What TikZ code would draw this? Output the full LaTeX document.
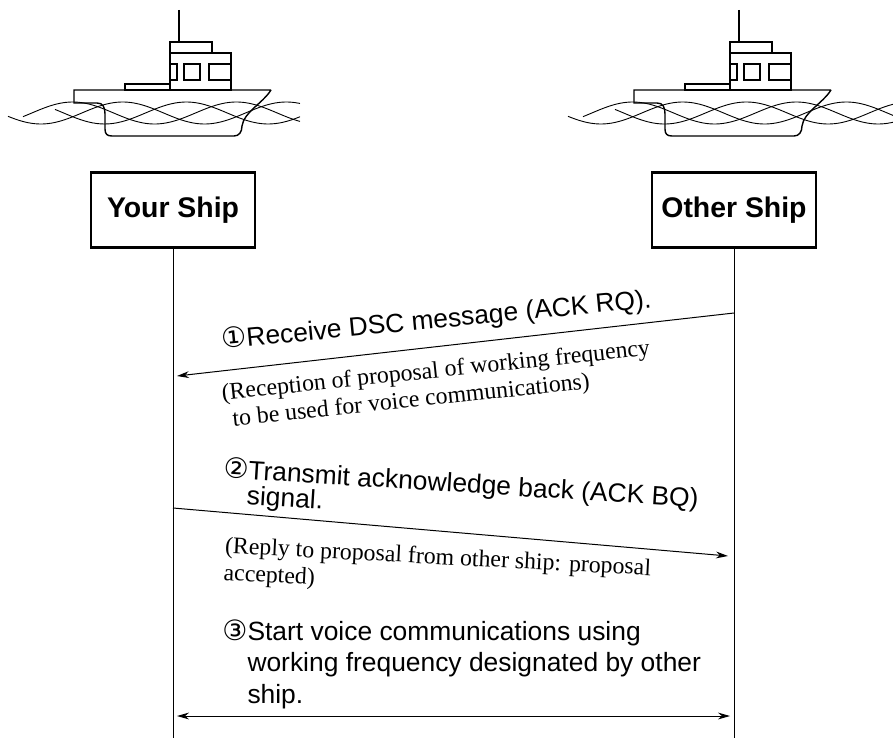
\documentclass[tikz,border=0pt]{standalone}
\usepackage{fontspec}
\setmainfont{Liberation Serif}
\setsansfont{Liberation Sans}
\newfontfamily\circfont{DejaVu Sans}
\usetikzlibrary{arrows.meta}

% circled step number
\newcommand{\cnum}[1]{{\circfont\fontsize{14}{14}\selectfont #1}}

\begin{document}
\begin{tikzpicture}[x=0.5pt, y=-0.5pt, >={Stealth[length=6pt, width=3.4pt]}]
    \useasboundingbox (0,0) rectangle (893,738);

    %styles
    \tikzstyle{shipbox}=[draw, line width=1.2pt, minimum width=82pt, minimum height=37.5pt, font=\sffamily\bfseries\fontsize{14.2}{17}\selectfont]
    \tikzstyle{lifeline}=[line width=0.5pt]
    \tikzstyle{msg}=[line width=0.5pt]
    \tikzstyle{steptext}=[inner sep=0pt, anchor=base west, align=left, font=\sffamily\fontsize{13.2}{15.75}\selectfont]
    \tikzstyle{note}=[inner sep=0pt, anchor=base west, align=left, font=\rmfamily\fontsize{11.9}{13.5}\selectfont]
    \tikzset{ship/.pic={
        % mast, bridge and cabin
        \draw[line width=0.7pt] (179,10) -- (179,42);
        \draw[line width=0.7pt] (170,42) rectangle (212,53);
        \draw[line width=0.7pt] (170,53) rectangle (231,90);
        \draw[line width=0.7pt] (170,64) rectangle (177,80) (184,64) rectangle (200,80) (209,64) rectangle (231,80);
        \draw[line width=0.7pt] (125,84) rectangle (170,90);
        % hull
        \draw[line width=0.7pt] (271,90) -- (74,90) -- (74,103) -- (97,103)
            .. controls (103,103) and (105,107) .. (105,114) -- (105,129)
            .. controls (105,134) and (107,136) .. (112,136) -- (234,136)
            .. controls (239,136) and (242,132) .. (242,126)
            .. controls (244,112) and (262,104) .. (271,90);
        % waves
        \foreach \ph/\xa in {0/8, 110/23, 220/55}
            \draw[line width=0.45pt] plot[domain=\xa:#1, samples=60, smooth] (\x, {113 + 11*sin(2.2*\x + \ph)});
    }}

    % ships
    \pic at (0,0) {ship=300};
    \pic at (560,0) {ship=333};

    % nodes
    \node[shipbox] (ys) at (173,210) {Your Ship};
    \node[shipbox] (os) at (734,210) {Other Ship};
    \coordinate (ys-end) at (173,738);
    \coordinate (os-end) at (734,738);

    \coordinate (m1-from) at (734,313);
    \coordinate (m1-to) at (177,376);
    \coordinate (m2-from) at (173,508);
    \coordinate (m2-to) at (728,556);
    \coordinate (m3-left) at (177,716);
    \coordinate (m3-right) at (730,716);

    % (multi-line nodes sit on the baseline of their last line)
    \node[steptext, rotate=5.5] (t1) at (222,349) {\cnum{①}Receive DSC message (ACK RQ).};
    \node[note, rotate=6] (n1) at (225,427) {(Reception of proposal of working frequency\\ \hspace*{4pt}to be used for voice communications)};
    \node[steptext, rotate=-3.6] (t2) at (221,503) {\cnum{②}Transmit acknowledge back (ACK BQ)\\[-3pt] \phantom{\cnum{②}}signal.};
    \node[note, rotate=-3] (n2) at (223,580) {(Reply to proposal from other ship: proposal\\ accepted)};
    \node[steptext] (t3) at (222,703) {\cnum{③}Start voice communications using\\ \phantom{\cnum{③}}working frequency designated by other\\ \phantom{\cnum{③}}ship.};

    % lifelines
    \draw[lifeline] (ys) -- (ys-end);
    \draw[lifeline] (os) -- (os-end);

    % arrows
    \draw[msg, ->] (m1-from) -- (m1-to);
    \draw[msg, ->] (m2-from) -- (m2-to);
    \draw[msg, <->] (m3-left) -- (m3-right);
\end{tikzpicture}
\end{document}
